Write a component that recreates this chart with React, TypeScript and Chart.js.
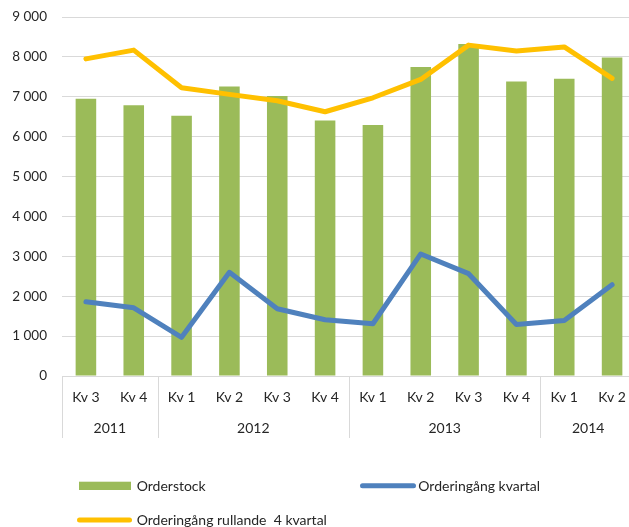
import React, { useEffect, useRef } from "react";
import { Chart, registerables } from "chart.js";

Chart.register(...registerables);

const categories = ["Kv 3", "Kv 4", "Kv 1", "Kv 2", "Kv 3", "Kv 4", "Kv 1", "Kv 2", "Kv 3", "Kv 4", "Kv 1", "Kv 2"];
const years = ["2011", "2012", "2013", "2014"];
const yearSpans = [2, 4, 4, 2];
const orderstock = [6950, 6785, 6525, 7260, 7020, 6405, 6295, 7745, 8320, 7385, 7450, 7985];
const orderingangKvartal = [1860, 1710, 970, 2600, 1685, 1410, 1310, 3060, 2565, 1290, 1390, 2290];
const orderingangRullande = [7950, 8170, 7225, 7060, 6900, 6625, 6975, 7435, 8295, 8150, 8250, 7460];

const GREEN = "#9BBB59";
const BLUE = "#4F81BD";
const YELLOW = "#FFC000";
const GRID = "#d9d9d9";
const TEXT = "#262626";
const FONT = "Lato, 'Open Sans', sans-serif";

const fmt = (v: number) => String(v).replace(/\B(?=(\d{3})+(?!\d))/g, " ");

const extrasPlugin = {
  id: "extras",
  afterDraw(chart: any) {
    const ctx = chart.ctx as CanvasRenderingContext2D;
    const x = chart.scales.x;
    const area = chart.chartArea;
    const catW = (x.right - x.left) / categories.length;
    ctx.save();
    // separators
    ctx.strokeStyle = GRID;
    ctx.lineWidth = 1;
    let idx = 0;
    const bounds: number[] = [0];
    yearSpans.forEach((s) => {
      idx += s;
      bounds.push(idx);
    });
    bounds.forEach((b) => {
      const px = Math.round(x.left + b * catW) + 0.5;
      ctx.beginPath();
      ctx.moveTo(px, area.bottom);
      ctx.lineTo(px, 430);
      ctx.stroke();
    });
    // year labels
    ctx.fillStyle = TEXT;
    ctx.font = `14px ${FONT}`;
    ctx.textAlign = "center";
    ctx.textBaseline = "middle";
    let start = 0;
    years.forEach((y, i) => {
      const end = start + yearSpans[i];
      const cx = x.left + ((start + end) / 2) * catW;
      ctx.fillText(y, cx, 420.5);
      start = end;
    });
    // legend
    ctx.textAlign = "left";
    ctx.fillStyle = GREEN;
    ctx.fillRect(71, 473.7, 52, 8.3);
    ctx.fillStyle = TEXT;
    ctx.fillText("Orderstock", 128.7, 478);

    ctx.lineCap = "round";
    ctx.lineWidth = 5;
    ctx.strokeStyle = BLUE;
    ctx.beginPath();
    ctx.moveTo(354.5, 477.7);
    ctx.lineTo(405.5, 477.7);
    ctx.stroke();
    ctx.fillStyle = TEXT;
    ctx.fillText("Orderingång kvartal", 410.3, 478);

    ctx.strokeStyle = YELLOW;
    ctx.beginPath();
    ctx.moveTo(71.5, 512);
    ctx.lineTo(121.5, 512);
    ctx.stroke();
    ctx.fillStyle = TEXT;
    ctx.fillText("Orderingång rullande  4 kvartal", 128.7, 512.5);
    ctx.restore();
  },
};

export default function App() {
  const ref = useRef<HTMLCanvasElement | null>(null);
  useEffect(() => {
    if (!ref.current) return;
    const chart = new Chart(ref.current, {
      type: "bar",
      data: {
        labels: categories,
        datasets: [
          {
            type: "line",
            label: "Orderingång rullande  4 kvartal",
            data: orderingangRullande,
            borderColor: YELLOW,
            backgroundColor: YELLOW,
            borderWidth: 5,
            pointRadius: 0,
            tension: 0,
            borderCapStyle: "round",
            borderJoinStyle: "round",
            order: 1,
          },
          {
            type: "line",
            label: "Orderingång kvartal",
            data: orderingangKvartal,
            borderColor: BLUE,
            backgroundColor: BLUE,
            borderWidth: 5,
            pointRadius: 0,
            tension: 0,
            borderCapStyle: "round",
            borderJoinStyle: "round",
            order: 2,
          },
          {
            type: "bar",
            label: "Orderstock",
            data: orderstock,
            backgroundColor: GREEN,
            barPercentage: 0.43,
            categoryPercentage: 1,
            order: 3,
          },
        ] as any,
      },
      options: {
        animation: false,
        responsive: true,
        maintainAspectRatio: false,
        layout: { padding: { top: 9, right: 12, bottom: 0, left: 0 } },
        plugins: { legend: { display: false }, tooltip: { enabled: false } },
        scales: {
          x: {
            grid: { display: false, drawTicks: false },
            border: { display: true, color: GRID, width: 1 },
            ticks: { color: TEXT, font: { family: FONT, size: 14 }, padding: 13, maxRotation: 0, autoSkip: false },
            afterFit: (s: any) => {
              s.height = 151;
            },
          },
          y: {
            min: 0,
            max: 9000,
            grid: { color: GRID, lineWidth: 1, drawTicks: true, tickLength: 15, tickColor: "rgba(0,0,0,0)" },
            border: { display: false },
            ticks: {
              stepSize: 1000,
              color: TEXT,
              font: { family: FONT, size: 13.5 },
              padding: 0,
              callback: (v: any) => fmt(Number(v)),
            },
            afterFit: (s: any) => {
              s.width = 54;
            },
          },
        },
      },
      plugins: [extrasPlugin],
    });
    return () => chart.destroy();
  }, []);
  return (
    <div style={{ position: "fixed", left: 0, top: 0, width: 629, height: 527, overflow: "hidden", background: "#fff" }}>
      <div style={{ position: "absolute", left: 8, top: 8, width: 640, height: 519 }}>
        <canvas ref={ref} />
      </div>
    </div>
  );
}
